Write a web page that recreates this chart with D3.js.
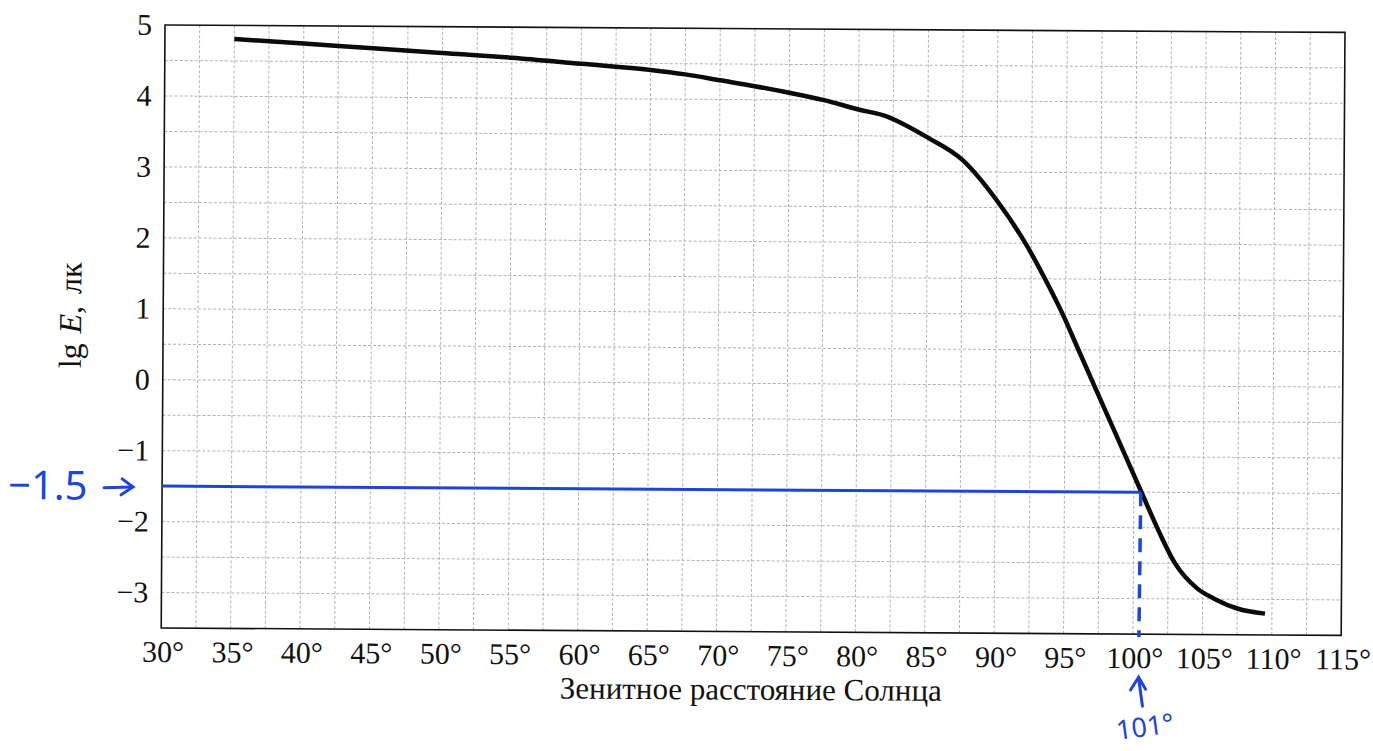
<!DOCTYPE html>
<html>
<head>
<meta charset="utf-8">
<script src="https://cdnjs.cloudflare.com/ajax/libs/d3/7.8.5/d3.min.js"></script>
<style>
    body { margin: 0; background: #fff; }
    #chart { width: 1373px; height: 751px; }
    .grid line { stroke: #b2b2b2; stroke-width: 1; stroke-dasharray: 3,2; }
</style>
</head>
<body>
<div id="chart"></div>
<script>

// curve: zenith distance of the Sun (deg) vs lg E (lx)
const zenith = [35, 40, 45, 50, 55, 60, 65, 67.5, 70, 72.5, 75, 77.5, 80, 81.8, 85, 87.5, 90, 92.2, 93.5, 94.8, 95.95, 97.1, 98.25, 99.4, 100.55, 101.7, 103.0, 104.6, 105.9, 107.5, 109.5];
const lgE = [4.81, 4.75, 4.69, 4.63, 4.57, 4.49, 4.41, 4.35, 4.27, 4.19, 4.10, 4.00, 3.87, 3.79, 3.48, 3.17, 2.6, 1.96, 1.5, 1.0, 0.5, 0.0, -0.5, -1.0, -1.5, -2.0, -2.5, -2.85, -3.0, -3.13, -3.20];

const xTicks = [30, 35, 40, 45, 50, 55, 60, 65, 70, 75, 80, 85, 90, 95, 100, 105, 110, 115];
const yTicks = [-3, -2, -1, 0, 1, 2, 3, 4, 5];

// handwritten blue marks
const markLevel = -1.5;
const markZenith = 100.5;
const markLabels = ["\u22121.5", "101°"];

const serif = "'Liberation Serif', 'Times New Roman', serif";
const hand = "'Noto Sans', sans-serif";


class IllumVis {

    constructor(parentElement) {
        this.parentElement = parentElement;
        this.initVis();
    }

    initVis() {
        let vis = this;

        vis.margin = {top: 25, left: 165};
        vis.width = 1180;
        vis.height = 603;

        let svg = d3.select("#" + vis.parentElement).append("svg")
            .attr("width", 1373)
            .attr("height", 751);

        // the scanned sheet is a bit tilted
        vis.svg = svg.append("g")
            .attr("transform", `translate(${vis.margin.left}, ${vis.margin.top}) rotate(0.36)`);

        vis.x = d3.scaleLinear().domain([30, 115]).range([0, vis.width]);
        vis.y = d3.scaleLinear().domain([-3.5, 5]).range([vis.height, 0]);

        vis.wrangleData();
    }

    wrangleData() {
        let vis = this;
        vis.curve = zenith.map((z, i) => ({z: z, v: lgE[i]}));
        vis.updateVis();
    }

    updateVis() {
        let vis = this;

        // grid
        let grid = vis.svg.append("g").attr("class", "grid");
        grid.selectAll(".vx")
            .data(d3.range(32.5, 115, 2.5))
            .enter().append("line")
            .attr("x1", d => vis.x(d)).attr("x2", d => vis.x(d))
            .attr("y1", 0).attr("y2", vis.height);
        grid.selectAll(".hy")
            .data(d3.range(-3, 5, 0.5))
            .enter().append("line")
            .attr("x1", 0).attr("x2", vis.width)
            .attr("y1", d => vis.y(d)).attr("y2", d => vis.y(d));

        // frame
        vis.svg.append("rect")
            .attr("width", vis.width)
            .attr("height", vis.height)
            .attr("fill", "none")
            .attr("stroke", "#111")
            .attr("stroke-width", 1.6);

        // tick labels
        vis.svg.selectAll(".xl")
            .data(xTicks)
            .enter().append("text")
            .style("font-family", serif)
            .style("font-size", "30px")
            .attr("fill", "#111")
            .attr("x", d => vis.x(d) + 2)
            .attr("y", vis.height + 34)
            .attr("text-anchor", "middle")
            .text(d => d + "°");

        vis.svg.selectAll(".yl")
            .data(yTicks)
            .enter().append("text")
            .style("font-family", serif)
            .style("font-size", "30px")
            .attr("fill", "#111")
            .attr("x", -13)
            .attr("y", d => vis.y(d) + 10)
            .attr("text-anchor", "end")
            .text(d => d < 0 ? "\u2212" + Math.abs(d) : d);

        // axis titles
        vis.svg.append("text")
            .style("font-family", serif)
            .style("font-size", "31px")
            .attr("fill", "#111")
            .attr("x", 590)
            .attr("y", vis.height + 68)
            .attr("text-anchor", "middle")
            .text("Зенитное расстояние Солнца");

        let yt = vis.svg.append("text")
            .style("font-family", serif)
            .style("font-size", "32px")
            .attr("fill", "#111")
            .attr("transform", `translate(-82, ${vis.y(0.9)}) rotate(-90)`)
            .attr("text-anchor", "middle");
        yt.append("tspan").text("lg");
        yt.append("tspan").attr("dx", 10).attr("font-style", "italic").text("E");
        yt.append("tspan").text(",");
        yt.append("tspan").attr("dx", 12).text("лк");

        // illuminance curve
        let line = d3.line()
            .x(d => vis.x(d.z))
            .y(d => vis.y(d.v))
            .curve(d3.curveMonotoneX);

        vis.svg.append("path")
            .datum(vis.curve)
            .attr("d", line)
            .attr("fill", "none")
            .attr("stroke", "#0b0b0b")
            .attr("stroke-width", 4.5)
            .attr("stroke-linejoin", "round");

        // blue pen marks
        let blue = "#1f45d6";
        vis.svg.append("line")
            .attr("x1", vis.x(30)).attr("x2", vis.x(markZenith))
            .attr("y1", vis.y(markLevel)).attr("y2", vis.y(markLevel))
            .attr("stroke", blue).attr("stroke-width", 3);

        vis.svg.append("line")
            .attr("x1", vis.x(markZenith)).attr("x2", vis.x(markZenith) - 1)
            .attr("y1", vis.y(markLevel)).attr("y2", vis.height + 3)
            .attr("stroke", blue).attr("stroke-width", 3.5)
            .attr("stroke-dasharray", "14,9");

        vis.svg.append("text")
            .attr("x", -154)
            .attr("y", vis.y(markLevel) + 14)
            .style("font-family", hand)
            .style("font-size", "40px")
            .attr("fill", blue)
            .text(markLabels[0]);

        let arrowL = vis.svg.append("g")
            .attr("stroke", blue).attr("stroke-width", 3).attr("fill", "none")
            .attr("stroke-linecap", "round");
        arrowL.append("path")
            .attr("d", `M-58,${vis.y(markLevel) + 2} L-30,${vis.y(markLevel) + 1}`);
        arrowL.append("path")
            .attr("d", `M-40,${vis.y(markLevel) - 7} L-29,${vis.y(markLevel) + 1} L-41,${vis.y(markLevel) + 9}`);

        let ax = vis.x(markZenith);
        let arrowB = vis.svg.append("g")
            .attr("stroke", blue).attr("stroke-width", 3).attr("fill", "none")
            .attr("stroke-linecap", "round");
        arrowB.append("path")
            .attr("d", `M${ax + 3},${vis.height + 72} L${ax - 1},${vis.height + 44}`);
        arrowB.append("path")
            .attr("d", `M${ax - 9},${vis.height + 56} L${ax - 1},${vis.height + 43} L${ax + 6},${vis.height + 55}`);

        vis.svg.append("text")
            .attr("x", ax + 6)
            .attr("y", vis.height + 102)
            .attr("text-anchor", "middle")
            .attr("transform", `rotate(-8, ${ax + 6}, ${vis.height + 95})`)
            .style("font-family", hand)
            .style("font-size", "27px")
            .attr("fill", blue)
            .text(markLabels[1]);
    }
}

new IllumVis("chart");

</script>
</body>
</html>
